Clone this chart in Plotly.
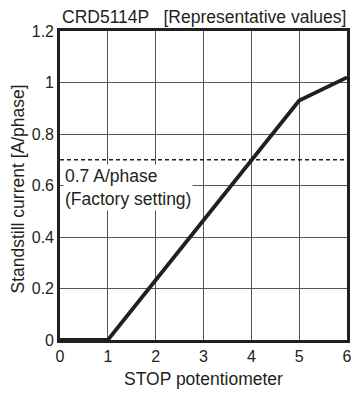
import plotly.graph_objects as go

# STOP potentiometer position vs. standstill current
stop_pos = [0, 1, 5, 6]
current = [0, 0, 0.93, 1.02]

factory_setting = 0.7
x_ticks = [0, 1, 2, 3, 4, 5, 6]
y_ticks = [0, 0.2, 0.4, 0.6, 0.8, 1, 1.2]
y_tick_labels = ["0", "0.2", "0.4", "0.6", "0.8", "1", "1.2"]

font_family = "Liberation Sans, Arial, sans-serif"
text_color = "#231f20"

# the page body keeps its default 8px margin, so the figure is 8px smaller
fig = go.Figure()

fig.add_trace(go.Scatter(
    x=[x_ticks[0], x_ticks[-1]],
    y=[factory_setting, factory_setting],
    mode="lines",
    line=dict(color=text_color, width=1.6, dash="4px,3px"),
    hoverinfo="skip",
))

fig.add_trace(go.Scatter(
    x=stop_pos,
    y=current,
    mode="lines",
    line=dict(color=text_color, width=3.8),
))

fig.add_annotation(
    x=0.06, y=factory_setting,
    xref="x", yref="y",
    xanchor="left", yanchor="top",
    yshift=-4,
    align="left",
    text="0.7 A/phase<br>(Factory setting)",
    showarrow=False,
    bgcolor="white",
    borderpad=1,
    font=dict(size=17.5, color=text_color, family=font_family),
)

# axis titles
fig.add_annotation(
    x=0.5, y=0, xref="paper", yref="paper",
    yanchor="middle", yshift=-39,
    text="STOP potentiometer", showarrow=False,
    font=dict(size=17.5, color=text_color),
)
fig.add_annotation(
    x=0, y=0.5, xref="paper", yref="paper",
    xanchor="center", xshift=-43, yshift=-4, textangle=-90,
    text="Standstill current [A/phase]", showarrow=False,
    font=dict(size=17.5, color=text_color),
)

fig.update_layout(
    width=351, height=385,
    margin=dict(l=52, r=12, t=23, b=53),
    paper_bgcolor="white",
    plot_bgcolor="white",
    showlegend=False,
    font=dict(family=font_family, color=text_color, size=16),
    title=dict(
        text="CRD5114P   [Representative values]",
        x=54 / 351, xanchor="left",
        y=1 - 9 / 385, yanchor="middle",
        font=dict(size=17.5),
    ),
)

fig.update_xaxes(
    range=[0, 6],
    tickvals=x_ticks,
    showgrid=True, gridcolor="#555555", gridwidth=1,
    showline=True, linecolor=text_color, linewidth=2.6, mirror=True,
    ticks="", zeroline=False, automargin=False,
    tickfont=dict(size=16),
)

fig.update_yaxes(
    range=[0, 1.2],
    tickvals=y_ticks,
    ticktext=y_tick_labels,
    showgrid=True, gridcolor="#555555", gridwidth=1,
    showline=True, linecolor=text_color, linewidth=2.6, mirror=True,
    ticks="", zeroline=False, automargin=False,
    tickfont=dict(size=16),
)

fig.write_html("out.html")
